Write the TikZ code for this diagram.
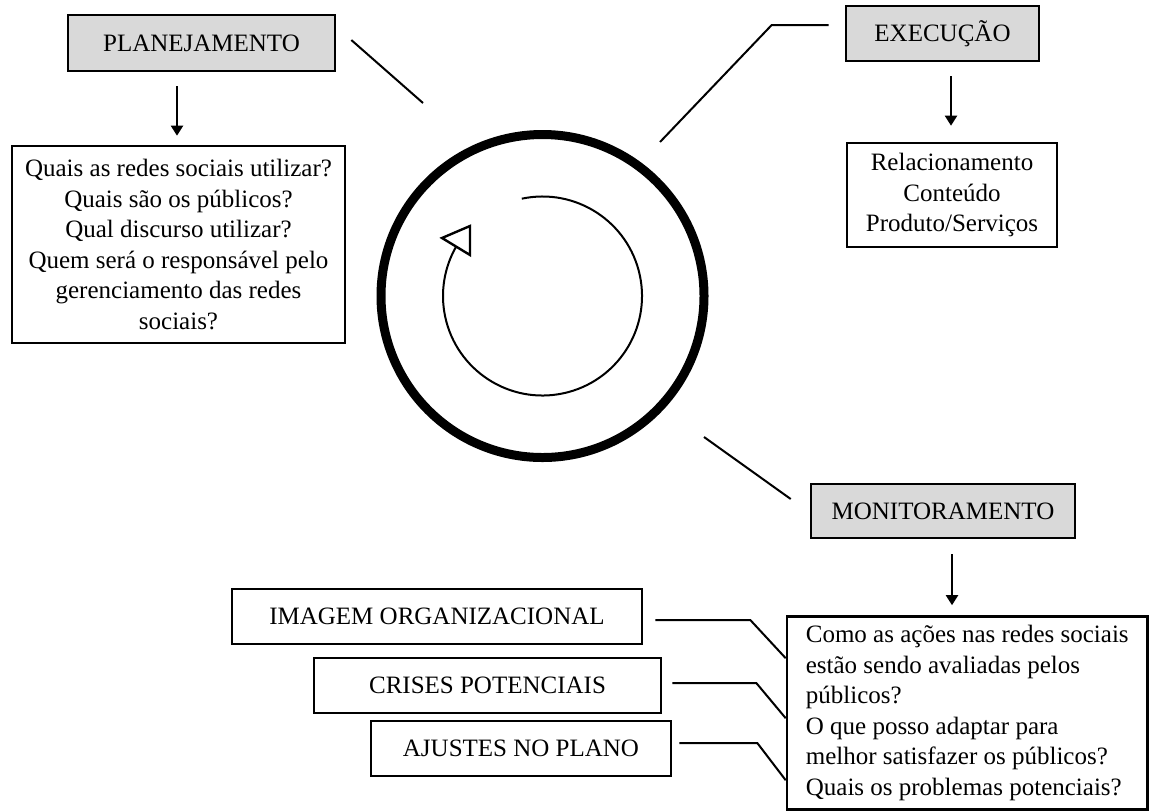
\documentclass[tikz,border=0pt]{standalone}
\usepackage{fontspec}
\setmainfont{Liberation Serif}
\usetikzlibrary{arrows.meta,calc}
\begin{document}
\begin{tikzpicture}[x=0.5pt,y=-0.5pt,
  every node/.style={font=\fontsize{12.5}{15.3}\selectfont, inner sep=0pt},
  box/.style={draw, line width=1.3pt, align=center},
  gbox/.style={box, fill=gray!30},
  conn/.style={line width=1pt},
  arr/.style={line width=1pt, -{Triangle[width=6pt,length=5pt]}}]
\useasboundingbox (0,0) rectangle (1149,810);

% boxes
\node[gbox, minimum width=133.5pt, minimum height=28pt] (plan) at (201.5,43) {PLANEJAMENTO};
\node[box, minimum width=166.5pt, minimum height=98.5pt] (plantext) at (178.5,244.5)
  {Quais as redes sociais utilizar?\\Quais são os públicos?\\Qual discurso utilizar?\\Quem será o responsável pelo\\gerenciamento das redes\\sociais?};
\node[gbox, minimum width=96.5pt, minimum height=27.5pt] (exec) at (942.5,33.5) {EXECUÇÃO};
\node[box, minimum width=105pt, minimum height=52pt] (exectext) at (952,195)
  {Relacionamento\\Conteúdo\\Produto/Serviços};
\node[gbox, minimum width=132pt, minimum height=27pt] (mon) at (943,511) {MONITORAMENTO};
\node[box, align=left, minimum width=180.25pt, minimum height=96.5pt] (montext) at (967.25,713)
  {Como as ações nas redes sociais\\estão sendo avaliadas pelos\\públicos?\\O que posso adaptar para\\melhor satisfazer os públicos?\\Quais os problemas potenciais?};
\node[box, minimum width=205pt, minimum height=27.5pt] (img) at (437,616.5) {IMAGEM ORGANIZACIONAL};
\node[box, minimum width=173.5pt, minimum height=27.5pt] (cri) at (487.5,685.5) {CRISES POTENCIAIS};
\node[box, minimum width=150pt, minimum height=27.5pt] (aju) at (521,748.5) {AJUSTES NO PLANO};

% cycle
\coordinate (ctr) at (542.5,296);
\draw[line width=4.5pt] (ctr) circle[radius=80.75pt];
\draw[line width=1pt] ($(ctr)+(102:49.75pt)$) arc[start angle=102, end angle=-210, radius=49.75pt];
\draw[line width=1.2pt, fill=white, line join=miter] (442,238) -- (470,226) -- (470,255) -- cycle;

% arrows
\draw[arr] ([xshift=-12.25pt,yshift=-7pt]plan.south) -- ([xshift=-0.75pt,yshift=4.5pt]plantext.north);
\draw[arr] ([xshift=4.25pt,yshift=-7pt]exec.south) -- ([xshift=-0.5pt,yshift=8pt]exectext.north);
\draw[arr] ([xshift=4.5pt,yshift=-7.5pt]mon.south) -- ([xshift=-7.625pt,yshift=5pt]montext.north);

% lines to circle
\coordinate (pl) at (423,103);
\coordinate (el) at (660,142);
\coordinate (ml) at (704,437);
\draw[conn] ([xshift=7.5pt,yshift=1.5pt]plan.east) -- (pl);
\draw[conn] (el) -- ([xshift=-36.5pt,yshift=4.25pt]exec.west) -- ([xshift=-8pt,yshift=4.25pt]exec.west);
\draw[conn] (ml) -- ([xshift=-9.5pt,yshift=6pt]mon.west);

% bottom connectors
\draw[conn] ([xshift=6pt,yshift=-1.75pt]img.east) -- ([xshift=53.5pt,yshift=-1.75pt]img.east) -- ([yshift=-21.5pt]montext.north west);
\draw[conn] ([xshift=5pt,yshift=1.25pt]cri.east) -- ([xshift=47pt,yshift=1.25pt]cri.east) -- ([yshift=-51.5pt]montext.north west);
\draw[conn] ([xshift=3.5pt,yshift=2.75pt]aju.east) -- ([xshift=42.5pt,yshift=2.75pt]aju.east) -- ([yshift=-82.5pt]montext.north west);
\end{tikzpicture}
\end{document}
